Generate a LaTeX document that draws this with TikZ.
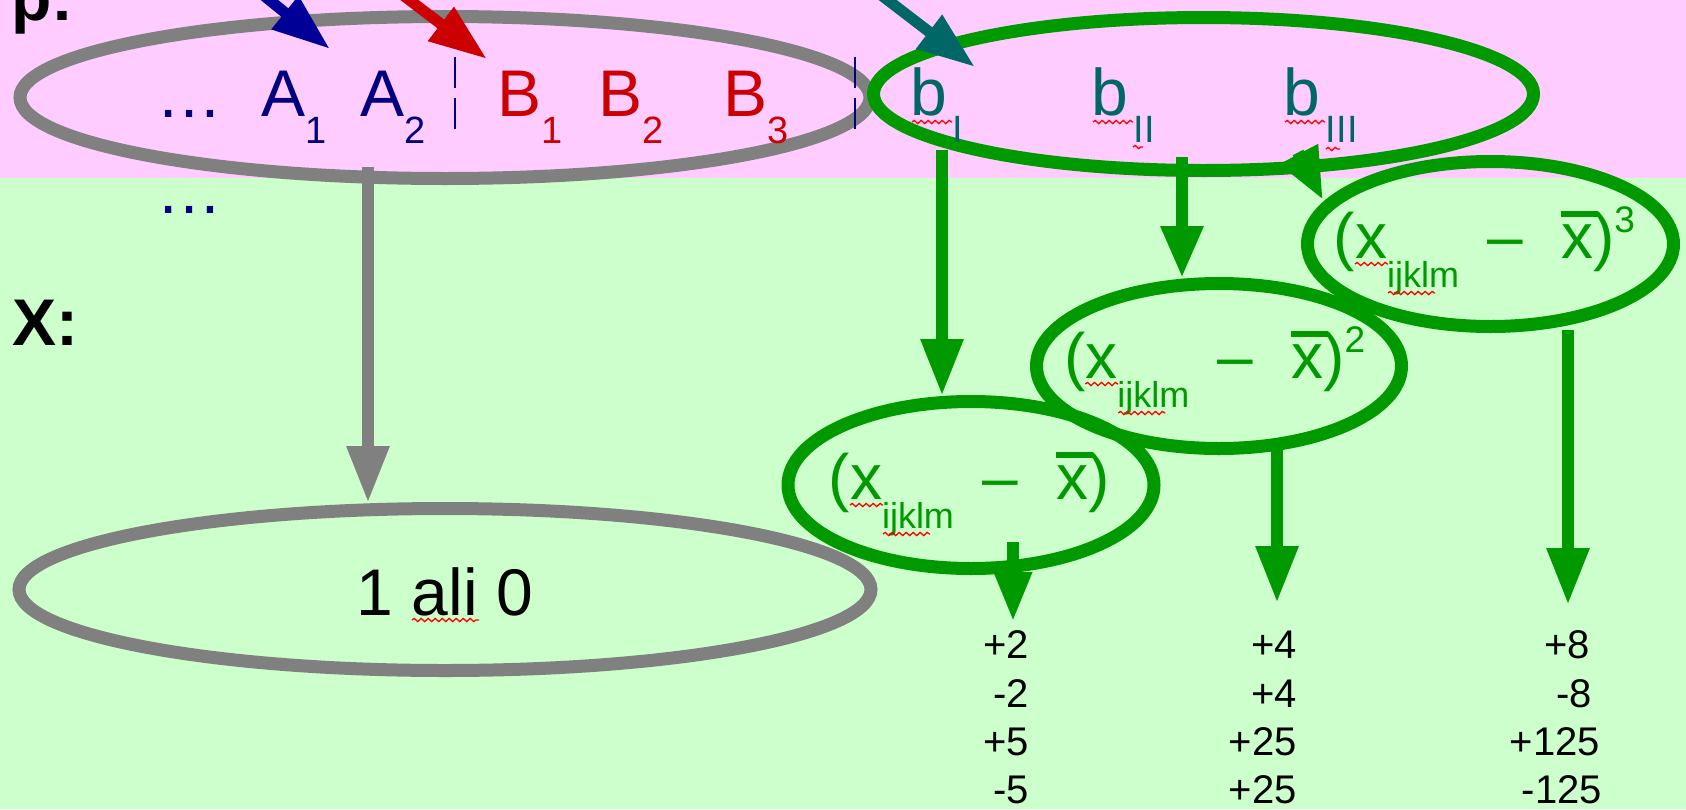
\documentclass[tikz,border=0pt]{standalone}
\usepackage{fontspec}
\setmainfont{Liberation Sans}
\usetikzlibrary{arrows.meta,shapes.geometric,calc,decorations.pathmorphing}

\definecolor{bgpink}{RGB}{255,204,255}
\definecolor{bggreen}{RGB}{204,255,204}
\definecolor{ringgrey}{RGB}{128,128,128}
\definecolor{ringgreen}{RGB}{0,153,0}
\definecolor{navy}{RGB}{0,0,128}
\definecolor{arrowblue}{RGB}{0,0,153}
\definecolor{levelred}{RGB}{204,0,0}
\definecolor{bteal}{RGB}{0,102,102}

\newcommand\bigtxt{\fontsize{66pt}{66pt}\selectfont}
\newcommand\formtxt{\fontsize{64pt}{64pt}\selectfont}
\newcommand\numtxt{\fontsize{40pt}{40pt}\selectfont}
% letter with a lowered index; optional gap before the index
\newcommand\lvl[3][0pt]{#2\hspace{#1}\raisebox{-27pt}{\fontsize{38pt}{38pt}\selectfont #3}}
% x with a bar over it
\newcommand\xbar{\rlap{\rule[0.64em]{0.58em}{0.09em}}x}
% deviation term with an optional power
\newcommand\dev[1]{(x\raisebox{-29pt}{\fontsize{36pt}{36pt}\selectfont ijklm}\hspace{28pt}\textendash\hspace{38.4pt}\xbar)\raisebox{26pt}{\fontsize{37pt}{37pt}\selectfont #1}}

\tikzset{
  ring/.style={ellipse, draw, line width=13pt, inner sep=0pt},
  greyring/.style={ring, draw=ringgrey},
  greenring/.style={ring, draw=ringgreen},
  txt/.style={inner sep=0pt, anchor=base west},
  num/.style={inner sep=0pt, anchor=base east, font=\numtxt},
  greyarrow/.style={draw=ringgrey, fill=ringgrey, line width=12pt},
  greenarrow/.style={draw=ringgreen, fill=ringgreen, line width=12pt},
  toparrow/.style={line width=11pt, -{Triangle[length=58pt,width=40pt]}},
  headL/.style={-{Triangle[length=57pt,width=40pt]}},
  headM/.style={-{Triangle[length=52pt,width=40pt]}},
  headS/.style={-{Triangle[length=50pt,width=35pt]}},
  sep/.style={draw=navy, line width=2pt, dash pattern=on 31pt off 10pt},
  squig/.style={draw=red, line width=1.3pt, decorate,
    decoration={snake, segment length=7pt, amplitude=1.6pt}}
}

\begin{document}
\begin{tikzpicture}[x=1pt,y=-1pt]
\useasboundingbox (0,0) rectangle (1686,809);
% two background bands
\fill[bgpink] (0,0) rectangle (1686,178);
\fill[bggreen] (0,178) rectangle (1686,809);

% side labels
\node[txt, font=\bfseries\bigtxt] (plab) at (11,20) {p:};
\node[txt, font=\bfseries\bigtxt] (xlab) at (12,345) {X:};

% grey rings: factor levels and the 0/1 coding
\node[greyring, minimum width=850pt, minimum height=162pt] (gtop) at (445,97.5) {};
\node[greyring, minimum width=852pt, minimum height=162pt] (gbot) at (445,589.5) {};
\draw[greyarrow, headL] ($(gtop.south)+(-77,-18)$) -- ($(gbot.north)+(-77,1)$);

% green rings: polynomial contrasts
\node[greenring, minimum width=660pt, minimum height=153pt] (btop) at (1203.5,94) {};
\node[greenring, minimum width=366pt, minimum height=167pt] (e1) at (971,485) {};
\node[greenring, minimum width=365pt, minimum height=165pt] (e2) at (1219,366) {};
\node[greenring, minimum width=366pt, minimum height=165pt] (e3) at (1490.5,244) {};

\draw[greenarrow, headL] ($(btop.south)+(-261.5,-27)$) -- ($(e1.north)+(-29,1)$);
\draw[greenarrow, headM] ($(btop.south)+(-21.5,-20)$) -- ($(e2.north)+(-37,1)$);
\draw[greenarrow, headM] ($(btop.south)+(94.5,-24.5)$) -- ($(e3.center)+(-167.5,-44)$);

\coordinate (out1) at (1013,622);
\coordinate (out2) at (1277,603);
\coordinate (out3) at (1568,605);
\draw[greenarrow, headS] ($(e1.south)+(42,-33)$) -- (out1);
\draw[greenarrow, headL] ($(e2.south)+(58,-5)$) -- (out2);
\draw[greenarrow, headL] ($(e3.south)+(77.5,-3)$) -- (out3);

% arrows coming in from above
\coordinate (blueFrom) at (236,-27);  \coordinate (blueTo) at (330,49);
\coordinate (redFrom) at (391,-14);   \coordinate (redTo) at (487,59);
\coordinate (tealFrom) at (872,-12);  \coordinate (tealTo) at (975,67);
\draw[toparrow, arrowblue] (blueFrom) -- (blueTo);
\draw[toparrow, levelred] (redFrom) -- (redTo);
\draw[toparrow, bteal] (tealFrom) -- (tealTo);

% level labels
\node[txt, text=navy, font=\bigtxt] (dotsA) at (156,117) {…};
\node[txt, text=navy, font=\bigtxt] (a1) at (261,116) {\lvl{A}{1}};
\node[txt, text=navy, font=\bigtxt] (a2) at (360,116) {\lvl{A}{2}};
\node[txt, text=levelred, font=\bigtxt] (b1) at (497,116) {\lvl{B}{1}};
\node[txt, text=levelred, font=\bigtxt] (b2) at (598,116) {\lvl{B}{2}};
\node[txt, text=levelred, font=\bigtxt] (b3) at (723,116) {\lvl{B}{3}};
\node[txt, text=bteal, font=\bigtxt] (c1) at (910,115) {\lvl[6pt]{b}{I}};
\node[txt, text=bteal, font=\bigtxt] (c2) at (1091,115) {\lvl[6pt]{b}{II}};
\node[txt, text=bteal, font=\bigtxt] (c3) at (1283,115) {\lvl[6pt]{b}{III}};
\node[txt, text=navy, font=\bigtxt] (dotsB) at (156,213) {…};

% separators between the factor groups
\coordinate (s1a) at (455,57);  \coordinate (s1b) at (455,130);
\coordinate (s2a) at (855,57);  \coordinate (s2b) at (855,130);
\draw[sep] (s1a) -- (s1b);
\draw[sep] (s2a) -- (s2b);

% ring contents
\node[inner sep=0pt, anchor=base, font=\bigtxt] (either) at ($(gbot.center)+(0,25.5)$) {1 ali 0};
\node[txt, text=ringgreen, font=\formtxt] (f1) at ($(e1.center)+(-142.5,14)$) {\dev{}};
\node[txt, text=ringgreen, font=\formtxt] (f2) at ($(e2.center)+(-155.2,12)$) {\dev{2}};
\node[txt, text=ringgreen, font=\formtxt] (f3) at ($(e3.center)+(-157,14)$) {\dev{3}};

% resulting values
\node[num] (v11) at (1029,658) {+2};
\node[num] (v12) at (1029,707) {-2};
\node[num] (v13) at (1029,755) {+5};
\node[num] (v14) at (1029,803) {-5};
\node[num] (v21) at (1297,658) {+4};
\node[num] (v22) at (1297,707) {+4};
\node[num] (v23) at (1297,755) {+25};
\node[num] (v24) at (1297,803) {+25};
\node[num] (v31) at (1590,658) {+8};
\node[num] (v32) at (1592,707) {-8};
\node[num] (v33) at (1600,755) {+125};
\node[num] (v34) at (1602,803) {-125};

% spelling marks under words
\draw[squig] ($(either.base)+(-33,5)$) -- ++(67,0);
\draw[squig] ($(c1.base west)+(2,7)$) -- ++(40,0);
\draw[squig] ($(c2.base west)+(2,7)$) -- ++(40,0);
\draw[squig] ($(c3.base west)+(2,7)$) -- ++(40,0);
\draw[squig] ($(c2.base west)+(42,32)$) -- ++(10,0);
\draw[squig] ($(c3.base west)+(43,34)$) -- ++(14,0);
\foreach \f in {f1,f2,f3}{
  \draw[squig] ($(\f.base west)+(21.5,6)$) -- ++(33,0);
  \draw[squig] ($(\f.base west)+(54.5,35)$) -- ++(47,0);
}
\end{tikzpicture}
\end{document}
